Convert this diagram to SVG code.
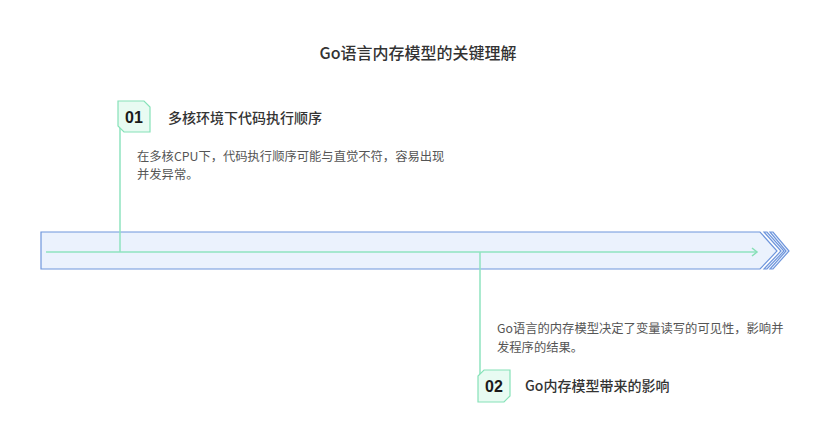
<svg xmlns="http://www.w3.org/2000/svg" width="830" height="448" viewBox="0 0 830 448">
<defs>
<style>
.t{font-family:"Noto Sans CJK SC","Liberation Sans",sans-serif;}
.title{font-size:16px;font-weight:500;fill:#333;}
.head{font-size:14px;font-weight:500;fill:#333;}
.body{font-size:12.3px;fill:#555;}
.num{font-family:"Liberation Sans",Arial,sans-serif;font-size:16px;font-weight:bold;fill:#1a1a1a;}
.badge{fill:#e8fbf2;stroke:#86e2b8;stroke-width:1.2;}
.conn{stroke:#8fe3bf;stroke-width:1.5;fill:none;}
.bar{fill:#ebf2fd;stroke:#6f96dc;stroke-width:1.2;}
</style>
<marker id="ah" markerWidth="10" markerHeight="10" refX="7" refY="5" orient="auto" markerUnits="userSpaceOnUse">
<path d="M2,1 L7,5 L2,9" fill="none" stroke="#86dfb5" stroke-width="1.5"/>
</marker>
</defs>
<rect width="830" height="448" fill="#fff"/>
<text class="t title" x="418" y="59" text-anchor="middle">Go语言内存模型的关键理解</text>

<g id="timeline">
<polygon class="bar" points="41,232 760,232 777,251 760,269 41,269"/>
<polygon class="bar" points="764,232 767,232 784,251 767,269 764,269 781,251"/>
<polygon class="bar" points="770,232 773,232 789,251 773,269 770,269 786,251"/>
</g>

<g id="connectors">
<line class="conn" x1="46" y1="252" x2="757" y2="252" marker-end="url(#ah)"/>
<line class="conn" x1="120" y1="128" x2="120" y2="252"/>
<line class="conn" x1="480" y1="252" x2="480" y2="374"/>
</g>

<g id="node1">
<polygon class="badge" points="118,101 144,101 150,107 150,132 124,132 118,126"/>
<text class="num" x="134" y="123" text-anchor="middle">01</text>
<text class="t head" x="168" y="123">多核环境下代码执行顺序</text>
<text class="t body" x="137" y="161">在多核CPU下，代码执行顺序可能与直觉不符，容易出现</text>
<text class="t body" x="137" y="179">并发异常。</text>
</g>

<g id="node2">
<polygon class="badge" points="484,370 510,370 510,396 504,402 478,402 478,376"/>
<text class="num" x="494" y="392" text-anchor="middle">02</text>
<text class="t head" x="525" y="391">Go内存模型带来的影响</text>
<text class="t body" x="497" y="333">Go语言的内存模型决定了变量读写的可见性，影响并</text>
<text class="t body" x="497" y="352">发程序的结果。</text>
</g>
</svg>
